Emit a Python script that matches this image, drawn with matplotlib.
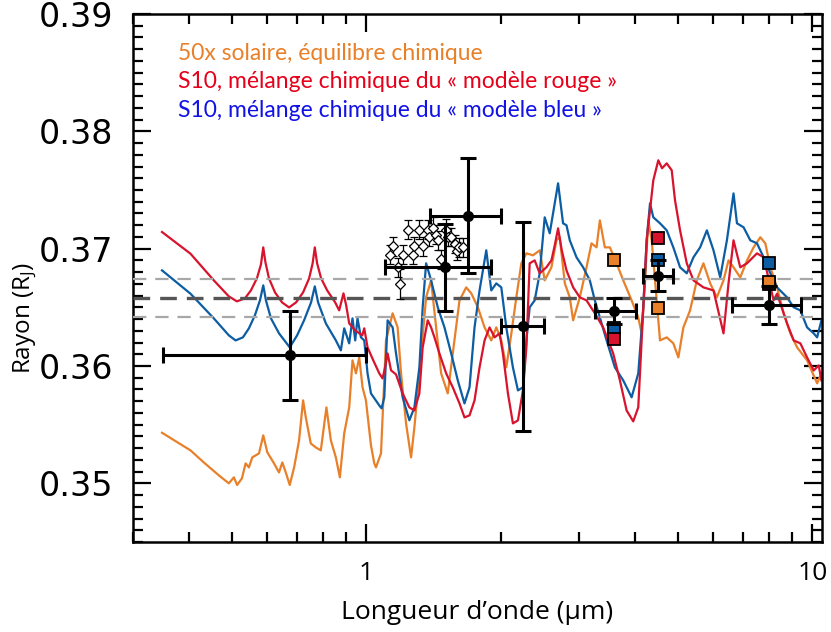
import matplotlib
matplotlib.use("Agg")
import matplotlib.pyplot as plt
from matplotlib.ticker import FixedLocator, NullFormatter, FixedFormatter

plt.rcParams['font.family'] = ['Open Sans', 'DejaVu Sans']
plt.rcParams['mathtext.fontset'] = 'custom'
plt.rcParams['mathtext.rm'] = 'Open Sans'
plt.rcParams['mathtext.it'] = 'Open Sans'

# --- model spectra (wavelength in micron, radius in Jupiter radii) ---
red_wl = [0.3485, 0.4037, 0.4553, 0.4921, 0.5129, 0.5346, 0.5514, 0.5688, 0.5808, 0.5877,
          0.5944, 0.6053, 0.6245, 0.6475, 0.6714, 0.6962, 0.7218, 0.7447, 0.7583, 0.7668,
          0.7760, 0.7922, 0.8174, 0.8518, 0.8696, 0.8892, 0.9016, 0.9158, 0.9447, 0.9795,
          0.9897, 1.0067, 1.0369, 1.0696, 1.0879, 1.1033, 1.1166, 1.1364, 1.1661, 1.2067,
          1.2493, 1.2821, 1.3154, 1.3381, 1.3734, 1.3975, 1.4218, 1.4588, 1.5105, 1.5630,
          1.6181, 1.6603, 1.7040, 1.7487, 1.7945, 1.8416, 1.8898, 1.9394, 1.9902, 2.0245,
          2.0776, 2.1318, 2.1878, 2.2452, 2.2852, 2.3243, 2.3853, 2.4478, 2.5338, 2.6004,
          2.6455, 2.6913, 2.7428, 2.8109, 2.9085, 3.0106, 3.1168, 3.2536, 3.3963, 3.5769,
          3.7028, 3.8336, 3.9666, 4.0707, 4.1426, 4.2510, 4.3993, 4.5144, 4.6018, 4.7149,
          4.8380, 4.9212, 5.0510, 5.2289, 5.4120, 5.6986, 6.0017, 6.3206, 6.4858, 6.6557,
          6.8912, 7.1352, 7.5131, 7.7753, 8.1855, 8.3320, 8.7733, 9.0782, 9.3972, 9.7297,
          10.067, 10.332, 10.476]
red_r = [0.37142, 0.36957, 0.36730, 0.36593, 0.36551, 0.36576, 0.36644, 0.36747, 0.36866, 0.37011,
         0.36883, 0.36747, 0.36627, 0.36542, 0.36499, 0.36542, 0.36627, 0.36747, 0.36875, 0.37011,
         0.36875, 0.36747, 0.36644, 0.36542, 0.36474, 0.36619, 0.36517, 0.36363, 0.36303, 0.36261,
         0.36321, 0.36159, 0.36048, 0.35937, 0.35894, 0.35997, 0.36107, 0.35963, 0.35928, 0.35766,
         0.35647, 0.35621, 0.35766, 0.36159, 0.36389, 0.36329, 0.36244, 0.36107, 0.35937, 0.35818,
         0.35681, 0.35562, 0.35579, 0.35707, 0.35988, 0.36218, 0.36329, 0.36244, 0.36278, 0.36107,
         0.35766, 0.35511, 0.35536, 0.35792, 0.36159, 0.36875, 0.36900, 0.36790, 0.36841, 0.36900,
         0.37028, 0.37173, 0.36986, 0.36815, 0.36671, 0.36585, 0.36559, 0.36449, 0.36329, 0.36107,
         0.35877, 0.35621, 0.35528, 0.35647, 0.36218, 0.37071, 0.37582, 0.37753, 0.37685, 0.37727,
         0.37668, 0.37412, 0.37156, 0.36875, 0.36730, 0.36670, 0.36644, 0.36278, 0.36704, 0.37071,
         0.36841, 0.36875, 0.36960, 0.36926, 0.36559, 0.36616, 0.36363, 0.36218, 0.36193, 0.36073,
         0.35962, 0.36005, 0.35877]

blue_wl = [0.3485, 0.4037, 0.4553, 0.4921, 0.5095, 0.5292, 0.5458, 0.5629, 0.5778, 0.5877,
           0.5959, 0.6115, 0.6375, 0.6738, 0.6999, 0.7255, 0.7522, 0.7668, 0.7800, 0.8118,
           0.8548, 0.8772, 0.8925, 0.9158, 0.9315, 0.9447, 0.9559, 0.9730, 0.9897, 1.0067,
           1.0247, 1.0696, 1.0824, 1.0976, 1.1166, 1.1459, 1.1661, 1.2067, 1.2493, 1.2821,
           1.3154, 1.3381, 1.3620, 1.3975, 1.4465, 1.4973, 1.5502, 1.6039, 1.6603, 1.7040,
           1.7487, 1.7945, 1.8579, 1.9065, 1.9566, 2.0077, 2.0601, 2.1318, 2.1878, 2.2452,
           2.2852, 2.3243, 2.3853, 2.4478, 2.5119, 2.5778, 2.6225, 2.6913, 2.7615, 2.8109,
           2.8590, 2.9600, 3.0626, 3.1704, 3.2536, 3.3389, 3.4570, 3.6083, 3.7670, 3.9339,
           4.0707, 4.1772, 4.2510, 4.3250, 4.3993, 4.5541, 4.7149, 4.8783, 5.0510, 5.2289,
           5.4120, 5.6022, 5.8006, 6.0017, 6.2136, 6.4322, 6.6557, 6.7748, 7.0100, 7.2578,
           7.5131, 7.7753, 8.0475, 8.3320, 8.7733, 9.0782, 9.3972, 9.7297, 10.067, 10.247,
           10.476]
blue_r = [0.36815, 0.36616, 0.36406, 0.36261, 0.36218, 0.36244, 0.36321, 0.36432, 0.36559, 0.36687,
          0.36559, 0.36406, 0.36278, 0.36159, 0.36261, 0.36389, 0.36542, 0.36679, 0.36542, 0.36363,
          0.36218, 0.36133, 0.36321, 0.36193, 0.36406, 0.36218, 0.36406, 0.36244, 0.36218, 0.35937,
          0.35766, 0.35664, 0.35639, 0.35733, 0.36389, 0.36329, 0.36107, 0.35733, 0.35537, 0.35647,
          0.35988, 0.36500, 0.36875, 0.36730, 0.36500, 0.36329, 0.36107, 0.35877, 0.35681, 0.35818,
          0.36329, 0.36644, 0.36986, 0.36644, 0.36704, 0.36670, 0.36329, 0.35988, 0.35792, 0.35818,
          0.36218, 0.36500, 0.36559, 0.36790, 0.37267, 0.37131, 0.37301, 0.37557, 0.37216, 0.37199,
          0.37071, 0.36926, 0.36841, 0.36730, 0.36559, 0.36414, 0.36218, 0.35988, 0.35877, 0.35733,
          0.35937, 0.36500, 0.37071, 0.37386, 0.37267, 0.37216, 0.37156, 0.37011, 0.36841, 0.36790,
          0.36926, 0.37011, 0.37156, 0.36986, 0.36755, 0.37071, 0.37471, 0.37216, 0.37182, 0.37071,
          0.37045, 0.36926, 0.36790, 0.36670, 0.36585, 0.36500, 0.36474, 0.36329, 0.36278, 0.36244,
          0.36389]

orange_wl = [0.3485, 0.4037, 0.4325, 0.4673, 0.4921, 0.5050, 0.5137, 0.5265, 0.5366, 0.5458,
             0.5553, 0.5749, 0.5877, 0.6002, 0.6213, 0.6375, 0.6485, 0.6601, 0.6738, 0.6892,
             0.7070, 0.7218, 0.7320, 0.7510, 0.7708, 0.7910, 0.8142, 0.8331, 0.8548, 0.8727,
             0.8925, 0.9158, 0.9315, 0.9482, 0.9645, 0.9810, 0.9984, 1.0247, 1.0423, 1.0515,
             1.0790, 1.1073, 1.1459, 1.1758, 1.1967, 1.2280, 1.2603, 1.2821, 1.3154, 1.3620,
             1.3975, 1.4342, 1.4719, 1.5230, 1.5630, 1.6181, 1.6750, 1.7195, 1.7792, 1.8416,
             1.9065, 1.9566, 2.0077, 2.0601, 2.1148, 2.1697, 2.2265, 2.2852, 2.3646, 2.4478,
             2.5119, 2.6004, 2.6687, 2.7146, 2.7867, 2.8590, 2.9085, 3.0106, 3.1168, 3.1983,
             3.2822, 3.3389, 3.4261, 3.5164, 3.6399, 3.7670, 3.9339, 4.0707, 4.1426, 4.2140,
             4.2865, 4.3630, 4.4771, 4.5541, 4.7149, 4.8783, 5.0070, 5.1380, 5.3193, 5.5075,
             5.6986, 5.9003, 6.1077, 6.3206, 6.4858, 6.6557, 6.8912, 7.1352, 7.3826, 7.6424,
             7.8437, 8.0475, 8.3320, 8.6209, 8.9252, 9.2385, 9.7297, 10.247, 10.476]
orange_r = [0.35431, 0.35281, 0.35178, 0.35068, 0.35000, 0.35051, 0.34986, 0.35043, 0.35170, 0.35136,
            0.35221, 0.35255, 0.35409, 0.35264, 0.35170, 0.35093, 0.35178, 0.35093, 0.34986, 0.35136,
            0.35366, 0.35707, 0.35562, 0.35340, 0.35306, 0.35281, 0.35647, 0.35366, 0.35221, 0.35051,
            0.35426, 0.35647, 0.36048, 0.35937, 0.36073, 0.35818, 0.35707, 0.35323, 0.35170, 0.35136,
            0.35255, 0.36218, 0.36449, 0.36329, 0.35937, 0.35511, 0.35221, 0.35477, 0.35937, 0.36585,
            0.36730, 0.36329, 0.35937, 0.35766, 0.36107, 0.36559, 0.36670, 0.36619, 0.36500, 0.36329,
            0.36218, 0.36329, 0.36218, 0.35988, 0.36278, 0.36585, 0.36875, 0.36960, 0.36943, 0.36986,
            0.36730, 0.36841, 0.37071, 0.37097, 0.36704, 0.36585, 0.36389, 0.36585, 0.36841, 0.37045,
            0.37011, 0.37241, 0.37011, 0.37011, 0.36875, 0.36730, 0.36559, 0.36414, 0.36278, 0.36704,
            0.37241, 0.37071, 0.36559, 0.36218, 0.36244, 0.36193, 0.36073, 0.36329, 0.36474, 0.36730,
            0.36875, 0.36704, 0.36585, 0.36730, 0.36900, 0.36841, 0.36755, 0.36900, 0.37011, 0.37097,
            0.37045, 0.36841, 0.36670, 0.36449, 0.36278, 0.36159, 0.36048, 0.35852, 0.35937]

# --- broadband measurements ---
obs_wl = [0.675, 1.50, 1.695, 2.25, 3.6, 4.5, 8.0]
obs_lo = [0.35, 1.10, 1.39, 2.00, 3.25, 4.18, 6.60]
obs_hi = [1.00, 1.90, 2.00, 2.50, 4.02, 4.86, 9.43]
obs_r = [0.3609, 0.3684, 0.3728, 0.3634, 0.3647, 0.3677, 0.3652]
obs_err = [0.0038, 0.0037, 0.0049, 0.0089, 0.0011, 0.0013, 0.0016]

# --- narrow-band spectrum ---
spec_wl = [1.130, 1.150, 1.176, 1.190, 1.207, 1.238, 1.271, 1.282, 1.311, 1.339,
           1.373, 1.385, 1.409, 1.434, 1.447, 1.472, 1.510, 1.523, 1.550, 1.577,
           1.596, 1.618, 1.646]
spec_r = [0.3695, 0.3702, 0.3684, 0.3670, 0.3695, 0.3716, 0.3695, 0.3702, 0.3716, 0.3702,
          0.3716, 0.3710, 0.3718, 0.3712, 0.3707, 0.3691, 0.3716, 0.3710, 0.3710, 0.3704,
          0.3698, 0.3701, 0.3701]
spec_err = [0.0008, 0.0008, 0.0008, 0.0013, 0.0008, 0.0008, 0.0008, 0.0008, 0.0008, 0.0008,
            0.0008, 0.0008, 0.0009, 0.0008, 0.0008, 0.0008, 0.0009, 0.0008, 0.0008, 0.0008,
            0.0008, 0.0008, 0.0008]

# --- band-integrated model values ---
band_wl = [3.6, 4.5, 8.0]
band_blue = [0.3632, 0.3690, 0.3688]
band_red = [0.3623, 0.3709, 0.3670]
band_orange = [0.3690, 0.3649, 0.3672]

# --- mean radius and its 1-sigma band ---
mean_r = 0.3658
mean_sig = 0.0016

legend_labels = ["50x solaire, équilibre chimique",
                 "S10, mélange chimique du « modèle rouge »",
                 "S10, mélange chimique du « modèle bleu »"]

c_orange = '#E8802A'
c_red = '#D8132D'
c_blue = '#0C5DA4'
txt_colors = ['#E8802A', '#E6001A', '#1212E6']

fig = plt.figure(figsize=(8.31, 6.32), dpi=100)
ax = fig.add_axes([0.160, 0.1424, 0.829, 0.8355])
ax.set_xscale('log')

ax.plot(orange_wl, orange_r, color=c_orange, lw=1.6, zorder=2)
ax.plot(blue_wl, blue_r, color=c_blue, lw=1.6, zorder=2)
ax.plot(red_wl, red_r, color=c_red, lw=1.6, zorder=2)

ax.axhline(mean_r + mean_sig, color='#A8A8A8', lw=1.6, dashes=(6, 4), zorder=3)
ax.axhline(mean_r - mean_sig, color='#A8A8A8', lw=1.6, dashes=(6, 4), zorder=3)
ax.axhline(mean_r, color='#555555', lw=2.4, dashes=(5, 3), zorder=3)

ax.errorbar(spec_wl, spec_r, yerr=spec_err, fmt='D', ms=5, mfc='white', mec='black',
            mew=0.9, ecolor='black', elinewidth=0.9, capsize=3, capthick=0.9, zorder=4)

ax.plot(band_wl, band_blue, 's', ms=8.5, mfc=c_blue, mec='black', mew=1.3, zorder=5)
ax.plot(band_wl, band_red, 's', ms=8.5, mfc=c_red, mec='black', mew=1.3, zorder=5)
ax.plot(band_wl, band_orange, 's', ms=8.5, mfc=c_orange, mec='black', mew=1.3, zorder=5)

xerr = [[w - lo for w, lo in zip(obs_wl, obs_lo)], [hi - w for w, hi in zip(obs_wl, obs_hi)]]
ax.errorbar(obs_wl, obs_r, xerr=xerr, yerr=obs_err, fmt='o', ms=7, color='black',
            elinewidth=2.2, capsize=6, capthick=2.2, zorder=6)

ax.set_xlim(0.3, 10.5)
ax.set_ylim(0.345, 0.39)

ax.xaxis.set_major_locator(FixedLocator([1, 10]))
ax.xaxis.set_major_formatter(FixedFormatter(['1', '10']))
ax.xaxis.set_minor_locator(FixedLocator([0.3, 0.4, 0.5, 0.6, 0.7, 0.8, 0.9,
                                         2, 3, 4, 5, 6, 7, 8, 9]))
ax.xaxis.set_minor_formatter(NullFormatter())
yt = [0.35, 0.36, 0.37, 0.38, 0.39]
ax.yaxis.set_major_locator(FixedLocator(yt))
ax.yaxis.set_major_formatter(FixedFormatter(['%.2f' % v for v in yt]))
ax.yaxis.set_minor_locator(FixedLocator([0.345 + 0.001 * i for i in range(46)]))

ax.tick_params(which='both', direction='in', top=True, right=True, width=1.6)
ax.tick_params(which='major', length=13)
ax.tick_params(which='minor', length=7)
ax.tick_params(axis='y', which='major', labelsize=24, pad=14)
ax.tick_params(axis='x', which='major', labelsize=19, pad=14)
for lab in ax.get_yticklabels():
    lab.set_family(['DejaVu Sans'])
for s in ax.spines.values():
    s.set_linewidth(1.8)

ax.set_xlabel("Longueur d\u2019onde (\u00b5m)", fontsize=19, labelpad=10)
ax.set_ylabel("Rayon (R$_\\mathrm{J}$)", fontsize=17.5)
ax.yaxis.set_label_coords(-0.137, 0.424)

for i, (lbl, c) in enumerate(zip(legend_labels, txt_colors)):
    ax.text(0.065, 0.926 - 0.054 * i, lbl, color=c, fontsize=16.5,
            family=['Lato', 'DejaVu Sans'],
            transform=ax.transAxes, va='center', ha='left')

fig.savefig('out.png', dpi=100)
